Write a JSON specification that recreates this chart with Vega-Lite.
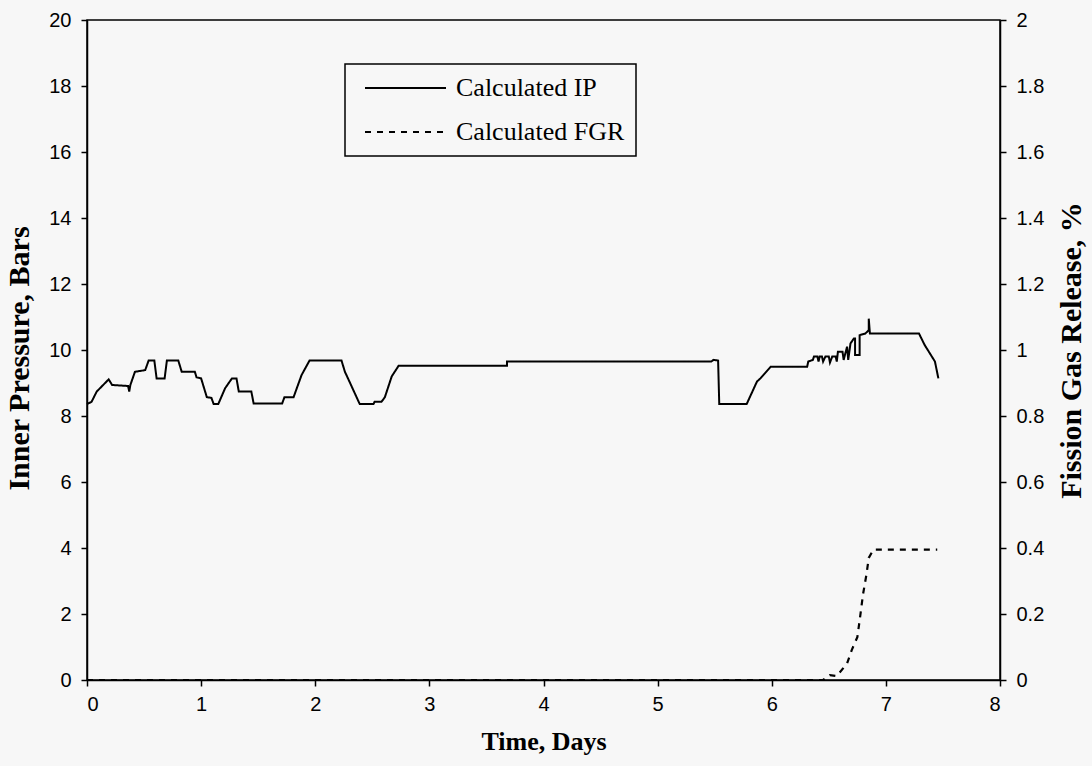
{
  "$schema": "https://vega.github.io/schema/vega-lite/v6.json",
  "width": 913,
  "height": 660,
  "autosize": "none",
  "padding": {"left": 87, "top": 20, "right": 92, "bottom": 86},
  "background": "#f7f7f7",
  "config": {
    "view": {"stroke": "black", "strokeWidth": 1.5},
    "axis": {
      "grid": false,
      "domainColor": "black",
      "domainWidth": 1.5,
      "tickColor": "black",
      "tickWidth": 1.5,
      "tickSize": 6,
      "labelColor": "black",
      "labelFont": "Liberation Sans",
      "labelFontSize": 20,
      "titleColor": "black",
      "titleFont": "Liberation Serif",
      "titleFontWeight": "bold",
      "titleFontSize": 30
    }
  },
  "datasets": {
    "ip": [
      {"i": 1, "t": 0.0, "v": 8.36},
      {"i": 2, "t": 0.04, "v": 8.43},
      {"i": 3, "t": 0.085, "v": 8.74},
      {"i": 4, "t": 0.19, "v": 9.11},
      {"i": 5, "t": 0.22, "v": 8.94},
      {"i": 6, "t": 0.36, "v": 8.91},
      {"i": 7, "t": 0.37, "v": 8.74},
      {"i": 8, "t": 0.38, "v": 8.94},
      {"i": 9, "t": 0.42, "v": 9.34},
      {"i": 10, "t": 0.51, "v": 9.39},
      {"i": 11, "t": 0.54, "v": 9.68},
      {"i": 12, "t": 0.59, "v": 9.68},
      {"i": 13, "t": 0.61, "v": 9.14},
      {"i": 14, "t": 0.68, "v": 9.14},
      {"i": 15, "t": 0.70, "v": 9.68},
      {"i": 16, "t": 0.80, "v": 9.68},
      {"i": 17, "t": 0.83, "v": 9.34},
      {"i": 18, "t": 0.945, "v": 9.34},
      {"i": 19, "t": 0.96, "v": 9.17},
      {"i": 20, "t": 1.0, "v": 9.14},
      {"i": 21, "t": 1.05, "v": 8.57},
      {"i": 22, "t": 1.09, "v": 8.55},
      {"i": 23, "t": 1.11, "v": 8.36},
      {"i": 24, "t": 1.15, "v": 8.36},
      {"i": 25, "t": 1.21, "v": 8.84},
      {"i": 26, "t": 1.27, "v": 9.14},
      {"i": 27, "t": 1.31, "v": 9.14},
      {"i": 28, "t": 1.33, "v": 8.74},
      {"i": 29, "t": 1.44, "v": 8.74},
      {"i": 30, "t": 1.46, "v": 8.38},
      {"i": 31, "t": 1.71, "v": 8.38},
      {"i": 32, "t": 1.73, "v": 8.57},
      {"i": 33, "t": 1.81, "v": 8.57},
      {"i": 34, "t": 1.88, "v": 9.24},
      {"i": 35, "t": 1.95, "v": 9.68},
      {"i": 36, "t": 2.23, "v": 9.68},
      {"i": 37, "t": 2.26, "v": 9.34},
      {"i": 38, "t": 2.30, "v": 9.04},
      {"i": 39, "t": 2.39, "v": 8.36},
      {"i": 40, "t": 2.51, "v": 8.36},
      {"i": 41, "t": 2.52, "v": 8.43},
      {"i": 42, "t": 2.58, "v": 8.43},
      {"i": 43, "t": 2.61, "v": 8.57},
      {"i": 44, "t": 2.67, "v": 9.2},
      {"i": 45, "t": 2.73, "v": 9.52},
      {"i": 46, "t": 3.68, "v": 9.52},
      {"i": 47, "t": 3.68, "v": 9.65},
      {"i": 48, "t": 5.47, "v": 9.65},
      {"i": 49, "t": 5.49, "v": 9.7},
      {"i": 50, "t": 5.53, "v": 9.68},
      {"i": 51, "t": 5.54, "v": 8.36},
      {"i": 52, "t": 5.78, "v": 8.36},
      {"i": 53, "t": 5.87, "v": 9.04},
      {"i": 54, "t": 5.90, "v": 9.14},
      {"i": 55, "t": 5.99, "v": 9.49},
      {"i": 56, "t": 6.31, "v": 9.49},
      {"i": 57, "t": 6.32, "v": 9.65},
      {"i": 58, "t": 6.36, "v": 9.7},
      {"i": 59, "t": 6.37, "v": 9.8},
      {"i": 60, "t": 6.40, "v": 9.8},
      {"i": 61, "t": 6.41, "v": 9.65},
      {"i": 62, "t": 6.42, "v": 9.8},
      {"i": 63, "t": 6.44, "v": 9.8},
      {"i": 64, "t": 6.45, "v": 9.65},
      {"i": 65, "t": 6.47, "v": 9.8},
      {"i": 66, "t": 6.50, "v": 9.8},
      {"i": 67, "t": 6.51, "v": 9.62},
      {"i": 68, "t": 6.53, "v": 9.8},
      {"i": 69, "t": 6.56, "v": 9.8},
      {"i": 70, "t": 6.57, "v": 9.65},
      {"i": 71, "t": 6.58, "v": 9.95},
      {"i": 72, "t": 6.62, "v": 9.95},
      {"i": 73, "t": 6.63, "v": 9.7},
      {"i": 74, "t": 6.66, "v": 10.1},
      {"i": 75, "t": 6.67, "v": 9.7},
      {"i": 76, "t": 6.69, "v": 10.2},
      {"i": 77, "t": 6.72, "v": 10.35},
      {"i": 78, "t": 6.73, "v": 10.35},
      {"i": 79, "t": 6.73, "v": 9.85},
      {"i": 80, "t": 6.77, "v": 9.85},
      {"i": 81, "t": 6.77, "v": 10.45},
      {"i": 82, "t": 6.82, "v": 10.5},
      {"i": 83, "t": 6.85, "v": 10.6},
      {"i": 84, "t": 6.85, "v": 10.95},
      {"i": 85, "t": 6.86, "v": 10.5},
      {"i": 86, "t": 7.29, "v": 10.5},
      {"i": 87, "t": 7.34, "v": 10.15},
      {"i": 88, "t": 7.43, "v": 9.65},
      {"i": 89, "t": 7.46, "v": 9.14}
    ],
    "fgr": [
      {"i": 1, "t": 0.0, "v": 0.0},
      {"i": 2, "t": 6.45, "v": 0.0},
      {"i": 3, "t": 6.51, "v": 0.015},
      {"i": 4, "t": 6.57, "v": 0.012},
      {"i": 5, "t": 6.66, "v": 0.05},
      {"i": 6, "t": 6.70, "v": 0.09},
      {"i": 7, "t": 6.75, "v": 0.13},
      {"i": 8, "t": 6.77, "v": 0.18},
      {"i": 9, "t": 6.80, "v": 0.26},
      {"i": 10, "t": 6.83, "v": 0.32},
      {"i": 11, "t": 6.85, "v": 0.37},
      {"i": 12, "t": 6.89, "v": 0.395},
      {"i": 13, "t": 7.45, "v": 0.395}
    ]
  },
  "layer": [
    {
      "data": {"name": "ip"},
      "mark": {"type": "line", "color": "black", "strokeWidth": 2},
      "encoding": {
        "x": {
          "field": "t", "type": "quantitative",
          "scale": {"domain": [0, 8], "nice": false},
          "axis": {"values": [0, 1, 2, 3, 4, 5, 6, 7, 8], "format": "d", "title": "Time, Days", "titleFontSize": 26, "labelPadding": 8, "titlePadding": 14}
        },
        "y": {
          "field": "v", "type": "quantitative",
          "scale": {"domain": [0, 20], "nice": false},
          "axis": {"values": [0, 2, 4, 6, 8, 10, 12, 14, 16, 18, 20], "title": "Inner Pressure, Bars", "titleY": 338, "labelPadding": 10, "titlePadding": 14}
        },
        "order": {"field": "i"},
        "strokeDash": {
          "datum": "Calculated IP",
          "scale": {"domain": ["Calculated IP", "Calculated FGR"], "range": [[1, 0], [6, 6]]},
          "legend": {
            "title": null,
            "orient": "none",
            "legendX": 258,
            "legendY": 44,
            "strokeColor": "black",
            "padding": 11,
            "symbolType": "M-0.4,0H7.7",
            "symbolSize": 400,
            "symbolStrokeWidth": 2,
            "symbolStrokeColor": "black",
            "labelFont": "Liberation Serif",
            "labelFontSize": 26,
            "labelColor": "black",
            "labelOffset": 74,
            "labelLimit": 400,
            "rowPadding": 18,
            "encode": {"legend": {"update": {"strokeWidth": {"value": 1.5}}}}
          }
        }
      }
    },
    {
      "data": {"name": "fgr"},
      "mark": {"type": "line", "color": "black", "strokeWidth": 2.2},
      "encoding": {
        "x": {"field": "t", "type": "quantitative"},
        "y": {
          "field": "v", "type": "quantitative",
          "scale": {"domain": [0, 2], "nice": false},
          "axis": {"orient": "right", "values": [0, 0.2, 0.4, 0.6, 0.8, 1, 1.2, 1.4, 1.6, 1.8, 2], "format": "~g", "title": "Fission Gas Release, %", "titleAngle": 270, "titleBaseline": "top", "labelPadding": 10, "titlePadding": 13}
        },
        "order": {"field": "i"},
        "strokeDash": {"datum": "Calculated FGR"}
      }
    }
  ],
  "resolve": {"scale": {"y": "independent"}}
}
